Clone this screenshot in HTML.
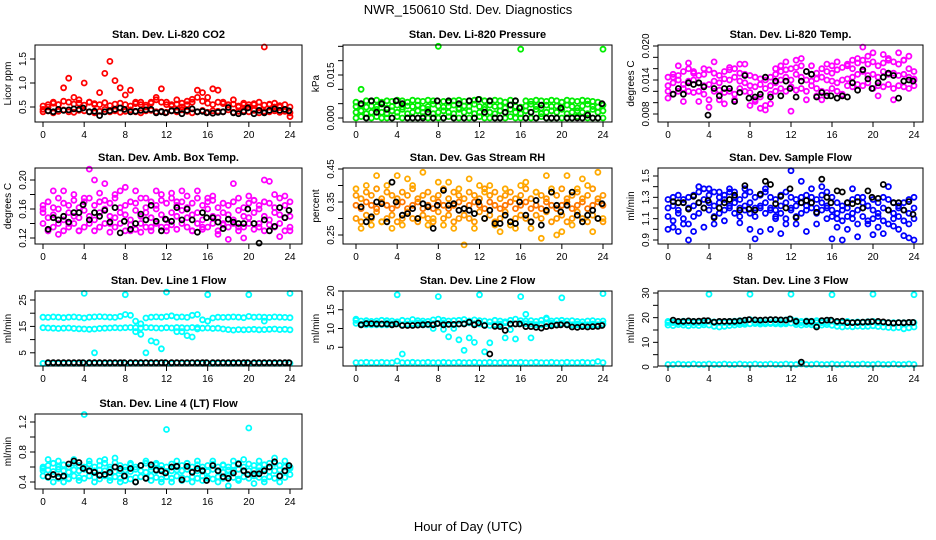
<!DOCTYPE html>
<html><head><meta charset="utf-8">
<style>
html,body{margin:0;padding:0;background:#fff;}
svg{display:block;font-family:"Liberation Sans",sans-serif;}
</style></head>
<body>
<svg id="chart" width="936" height="540" viewBox="0 0 936 540" xmlns="http://www.w3.org/2000/svg">
<text x="468" y="14" text-anchor="middle" font-size="13">NWR_150610 Std. Dev. Diagnostics</text>
<text x="468" y="531" text-anchor="middle" font-size="13">Hour of Day (UTC)</text>
</svg>
<script>
// ---- shared x data ----
const hours49 = [0,0.5,1,1.5,2,2.5,3,3.5,4,4.5,5,5.5,6,6.5,7,7.5,8,8.5,9,9.5,10,10.5,11,11.5,12,12.5,13,13.5,14,14.5,15,15.5,16,16.5,17,17.5,18,18.5,19,19.5,20,20.5,21,21.5,22,22.5,23,23.5,24];
const blackHours = [0.5,1,1.5,2,2.5,3,3.5,3.9,4.5,5,5.5,6,6.5,7,7.5,7.9,8.5,9,9.5,10,10.5,11,11.5,11.9,12.5,13,13.5,14,14.5,15,15.5,15.9,16.5,17,17.5,18,18.5,19,19.5,19.9,20.5,21,21.5,22,22.5,23,23.5,23.9];
const xTicks = [0,4,8,12,16,20,24];

// ---- P1 CO2 ----
const co2A = [0.40,0.42,0.38,0.41,0.44,0.40,0.39,0.43,0.42,0.40,0.38,0.41,0.45,0.40,0.42,0.39,0.41,0.44,0.40,0.38,0.42,0.43,0.40,0.41,0.39,0.42,0.40,0.44,0.41,0.38,0.40,0.43,0.39,0.42,0.41,0.40,0.44,0.39,0.41,0.42,0.40,0.43,0.38,0.41,0.40,0.42,0.39,0.41,0.38];
const co2B = [0.52,0.55,0.58,0.55,0.62,0.60,0.56,0.58,0.54,0.60,0.57,0.55,0.59,0.53,0.56,0.58,0.55,0.52,0.57,0.60,0.54,0.58,0.65,0.60,0.55,0.52,0.56,0.58,0.62,0.66,0.70,0.62,0.58,0.55,0.60,0.57,0.54,0.56,0.52,0.58,0.55,0.57,0.60,0.54,0.56,0.58,0.53,0.55,0.50];
const co2C = [0.45,0.50,0.60,0.55,0.90,1.10,0.70,0.65,1.00,0.60,0.55,0.80,1.20,1.45,1.05,0.90,0.75,0.85,0.60,0.55,0.50,0.60,0.70,0.88,0.60,0.55,0.65,0.50,0.55,0.60,0.85,0.80,0.70,0.88,0.85,0.60,0.55,0.65,0.50,0.55,0.50,0.55,0.50,1.75,0.55,0.50,0.50,0.45,0.30];
const co2Black = [0.42,0.40,0.45,0.43,0.44,0.46,0.45,0.48,0.40,0.41,0.32,0.40,0.42,0.45,0.48,0.45,0.40,0.41,0.43,0.44,0.45,0.38,0.40,0.38,0.42,0.43,0.36,0.43,0.46,0.40,0.41,0.38,0.37,0.39,0.40,0.49,0.38,0.36,0.40,0.48,0.36,0.43,0.38,0.43,0.46,0.43,0.45,0.42];

// ---- P2 Pressure ----
const presA = [0,0.0005,0,0,0.0005,0,0,0,0.0005,0,0,0,0,0.0005,0,0,0,0,0.0005,0,0,0,0,0,0.0005,0,0,0,0,0,0.0005,0,0,0,0,0,0.0005,0,0,0,0,0,0,0.0005,0,0,0,0,0];
const presB = [0.002,0.0025,0.0015,0.002,0.003,0.002,0.0015,0.0025,0.002,0.003,0.0015,0.002,0.0025,0.002,0.003,0.0015,0.002,0.0025,0.002,0.0015,0.003,0.002,0.0025,0.0015,0.002,0.003,0.002,0.0015,0.0025,0.002,0.003,0.002,0.0015,0.0025,0.002,0.003,0.0015,0.002,0.0025,0.002,0.003,0.0015,0.002,0.0025,0.002,0.0015,0.003,0.002,0.0025];
const presC = [0.004,0.0045,0.0038,0.0042,0.004,0.0048,0.0035,0.004,0.0045,0.0038,0.0042,0.004,0.0045,0.0035,0.004,0.0048,0.0042,0.0038,0.004,0.0045,0.0035,0.0042,0.004,0.0048,0.004,0.0038,0.0045,0.004,0.0042,0.0035,0.0045,0.004,0.0038,0.0042,0.0048,0.004,0.0035,0.0045,0.004,0.0042,0.0038,0.0045,0.004,0.0035,0.0042,0.0048,0.004,0.0038,0.0045];
const presD = [0.0055,0.010,0.006,0.0058,0.0062,0.0055,0.006,0.0058,0.0062,0.006,0.0055,0.0062,0.006,0.0058,0.0062,0.006,0.025,0.0058,0.0055,0.006,0.0062,0.0058,0.006,0.0062,0.0065,0.006,0.0058,0.0062,0.006,0.0055,0.0062,0.006,0.024,0.006,0.0058,0.0062,0.006,0.0058,0.0062,0.006,0.0055,0.0062,0.006,0.0058,0.0062,0.006,0.0058,0.0055,0.024];
const presBlack = [0.005,0,0.006,0.002,0.005,0.003,0,0.006,0.005,0,0,0,0,0.002,0,0.006,0,0.006,0,0.005,0,0.006,0,0.0065,0.002,0.006,0,0,0.002,0.0045,0.006,0.0035,0,0.002,0,0.0045,0,0,0,0.0035,0,0,0,0,0.001,0,0,0.005];

// ---- P3 Li-820 Temp ----
const tmpA = [0.012,0.0115,0.012,0.0125,0.012,0.0118,0.012,0.0115,0.0105,0.012,0.0122,0.0118,0.012,0.0115,0.0125,0.012,0.0118,0.0105,0.011,0.0095,0.0115,0.012,0.0125,0.012,0.0128,0.0122,0.0125,0.012,0.013,0.0125,0.012,0.0118,0.0125,0.012,0.0115,0.013,0.0128,0.0132,0.013,0.0135,0.0125,0.013,0.0128,0.0132,0.0125,0.013,0.0128,0.0125,0.013];
const tmpB = [0.013,0.0135,0.014,0.0132,0.0138,0.014,0.0135,0.013,0.0132,0.0138,0.0135,0.0142,0.014,0.0145,0.0138,0.0135,0.013,0.0128,0.0132,0.0125,0.013,0.0135,0.014,0.0145,0.014,0.015,0.0145,0.014,0.0138,0.0142,0.0145,0.014,0.0138,0.0135,0.014,0.0142,0.0145,0.015,0.0155,0.0148,0.015,0.0145,0.0155,0.015,0.0152,0.0148,0.015,0.0145,0.014];
const tmpC = [0.0145,0.015,0.0148,0.0155,0.016,0.0152,0.0148,0.015,0.0158,0.0152,0.0148,0.0155,0.0158,0.016,0.0152,0.015,0.0148,0.0145,0.0142,0.014,0.0145,0.015,0.0155,0.0158,0.016,0.0162,0.0165,0.0155,0.015,0.0152,0.016,0.0155,0.0152,0.0158,0.0162,0.0165,0.016,0.017,0.0175,0.0168,0.0172,0.0165,0.017,0.0175,0.0172,0.0168,0.0175,0.016,0.0155];
const tmpD = [0.0108,0.0145,0.0165,0.0102,0.017,0.0155,0.0102,0.016,0.0092,0.0172,0.0105,0.0098,0.0162,0.0105,0.0168,0.0168,0.0095,0.0102,0.009,0.0087,0.0098,0.016,0.0165,0.0172,0.0085,0.0175,0.0178,0.0105,0.0165,0.0112,0.0105,0.0168,0.0165,0.0172,0.0112,0.0168,0.0175,0.0178,0.0198,0.0182,0.0188,0.0112,0.0185,0.0178,0.0105,0.0188,0.0175,0.0182,0.0142];
const tmpBlack = [0.0115,0.0125,0.0115,0.0135,0.0132,0.0135,0.0128,0.0078,0.0125,0.0112,0.0125,0.0125,0.0102,0.0118,0.0148,0.0108,0.011,0.0115,0.0145,0.011,0.0138,0.0112,0.0138,0.0125,0.011,0.0138,0.0155,0.015,0.011,0.0118,0.0112,0.0112,0.0108,0.0112,0.011,0.0135,0.0122,0.0158,0.0142,0.0125,0.0135,0.0145,0.0152,0.0148,0.0108,0.0138,0.014,0.0138];

// ---- P4 Amb Box Temp ----
const boxA = [0.14,0.13,0.135,0.14,0.13,0.135,0.14,0.13,0.135,0.14,0.13,0.135,0.14,0.128,0.135,0.14,0.13,0.138,0.132,0.14,0.135,0.13,0.14,0.135,0.13,0.138,0.132,0.14,0.135,0.13,0.14,0.132,0.135,0.14,0.13,0.138,0.135,0.14,0.13,0.135,0.14,0.132,0.135,0.13,0.138,0.135,0.14,0.13,0.135];
const boxB = [0.155,0.148,0.152,0.16,0.145,0.155,0.15,0.148,0.158,0.15,0.145,0.155,0.16,0.15,0.148,0.155,0.152,0.145,0.158,0.15,0.155,0.148,0.16,0.152,0.145,0.155,0.15,0.158,0.148,0.152,0.155,0.145,0.16,0.15,0.148,0.155,0.152,0.145,0.158,0.15,0.148,0.155,0.16,0.15,0.145,0.155,0.152,0.148,0.15];
const boxC = [0.165,0.17,0.162,0.175,0.168,0.165,0.172,0.162,0.17,0.175,0.165,0.17,0.172,0.168,0.175,0.162,0.165,0.17,0.168,0.175,0.162,0.17,0.165,0.172,0.168,0.175,0.165,0.17,0.162,0.168,0.175,0.165,0.17,0.172,0.162,0.168,0.165,0.17,0.175,0.162,0.168,0.172,0.165,0.17,0.168,0.162,0.175,0.165,0.17];
const boxD = [0.16,0.13,0.185,0.125,0.185,0.14,0.18,0.13,0.175,0.215,0.2,0.182,0.195,0.14,0.18,0.185,0.19,0.13,0.185,0.128,0.175,0.135,0.185,0.18,0.135,0.182,0.17,0.185,0.178,0.13,0.185,0.135,0.175,0.178,0.125,0.14,0.118,0.195,0.135,0.12,0.178,0.172,0.14,0.2,0.198,0.18,0.122,0.178,0.13];
const boxBlack = [0.132,0.148,0.145,0.15,0.142,0.155,0.155,0.166,0.145,0.155,0.15,0.158,0.142,0.162,0.127,0.143,0.132,0.14,0.153,0.145,0.165,0.143,0.13,0.146,0.143,0.162,0.145,0.16,0.145,0.128,0.155,0.148,0.148,0.142,0.133,0.146,0.142,0.14,0.14,0.16,0.14,0.113,0.145,0.13,0.136,0.162,0.148,0.158];

// ---- P5 Gas Stream RH ----
const rhA = [0.3,0.29,0.31,0.3,0.32,0.29,0.3,0.31,0.29,0.3,0.32,0.3,0.29,0.31,0.3,0.29,0.32,0.3,0.31,0.29,0.3,0.31,0.3,0.29,0.32,0.3,0.31,0.29,0.3,0.32,0.29,0.3,0.31,0.3,0.29,0.31,0.3,0.32,0.29,0.3,0.31,0.29,0.3,0.32,0.3,0.29,0.31,0.3,0.29];
const rhB = [0.34,0.33,0.35,0.34,0.33,0.35,0.34,0.33,0.34,0.35,0.33,0.34,0.35,0.33,0.34,0.33,0.35,0.34,0.33,0.34,0.35,0.33,0.34,0.35,0.34,0.33,0.35,0.34,0.33,0.34,0.35,0.33,0.34,0.35,0.33,0.34,0.33,0.35,0.34,0.33,0.34,0.35,0.33,0.34,0.35,0.33,0.34,0.35,0.34];
const rhC = [0.37,0.36,0.38,0.37,0.39,0.36,0.38,0.37,0.36,0.38,0.37,0.39,0.36,0.37,0.38,0.36,0.37,0.39,0.36,0.38,0.37,0.36,0.38,0.37,0.36,0.39,0.37,0.38,0.36,0.37,0.38,0.36,0.37,0.39,0.36,0.38,0.37,0.36,0.38,0.37,0.39,0.36,0.37,0.38,0.36,0.37,0.39,0.36,0.37];
const rhD = [0.39,0.27,0.4,0.28,0.43,0.29,0.4,0.27,0.43,0.28,0.42,0.4,0.3,0.44,0.28,0.3,0.41,0.28,0.41,0.27,0.39,0.22,0.42,0.27,0.4,0.38,0.4,0.28,0.26,0.39,0.28,0.27,0.4,0.41,0.27,0.38,0.24,0.43,0.39,0.25,0.26,0.43,0.28,0.39,0.42,0.4,0.26,0.44,0.3];
const rhBlack = [0.335,0.29,0.305,0.35,0.345,0.29,0.41,0.35,0.31,0.315,0.33,0.3,0.345,0.335,0.27,0.34,0.385,0.34,0.345,0.325,0.33,0.325,0.315,0.35,0.3,0.325,0.285,0.285,0.31,0.29,0.285,0.35,0.31,0.29,0.355,0.28,0.325,0.38,0.34,0.32,0.34,0.38,0.31,0.29,0.31,0.325,0.3,0.345];

// ---- P6 Sample Flow ----
const sfA = [1.12,1.08,1.15,1.1,1.05,1.12,1.15,1.2,1.18,1.12,1.15,1.18,1.2,1.15,1.12,1.18,1.15,1.12,1.2,1.15,1.18,1.12,1.15,1.1,1.18,1.12,1.15,1.18,1.2,1.15,1.18,1.2,1.12,1.1,1.08,1.12,1.1,1.05,1.12,1.08,1.1,1.12,1.08,1.05,1.1,1.12,1.08,1.05,1.1];
const sfB = [1.2,1.22,1.18,1.25,1.2,1.22,1.25,1.28,1.25,1.22,1.25,1.28,1.22,1.25,1.2,1.22,1.25,1.2,1.22,1.25,1.2,1.18,1.22,1.25,1.2,1.22,1.25,1.22,1.25,1.2,1.25,1.22,1.18,1.15,1.18,1.2,1.15,1.18,1.2,1.22,1.18,1.15,1.2,1.18,1.15,1.2,1.18,1.15,1.2];
const sfC = [1.28,1.3,1.32,1.28,1.3,1.32,1.35,1.38,1.32,1.35,1.3,1.32,1.35,1.3,1.28,1.32,1.35,1.3,1.32,1.35,1.3,1.28,1.32,1.35,1.3,1.28,1.3,1.32,1.3,1.28,1.32,1.35,1.3,1.25,1.22,1.25,1.28,1.3,1.25,1.22,1.28,1.25,1.3,1.28,1.25,1.22,1.25,1.28,1.3];
const sfD = [1.0,1.02,0.98,1.05,0.9,0.98,1.4,1.02,1.38,1.05,1.35,1.08,1.38,1.35,1.06,1.38,1.0,0.91,0.98,1.38,1.0,1.1,0.96,1.05,1.55,1.05,1.45,0.98,1.38,1.05,1.4,1.1,0.91,1.02,0.9,1.0,1.38,0.93,1.3,1.05,0.95,1.02,0.96,1.4,1.03,1.0,0.94,0.92,0.9];
const sfBlack = [1.26,1.25,1.25,1.19,1.31,1.25,1.2,1.27,1.11,1.2,1.25,1.28,1.32,1.18,1.41,1.19,1.18,1.33,1.45,1.42,1.24,1.31,1.2,1.38,1.11,1.25,1.27,1.25,1.16,1.47,1.3,1.25,1.36,1.35,1.25,1.24,1.26,1.2,1.36,1.3,1.29,1.42,1.18,1.25,1.25,1.18,1.26,1.14];

// ---- P7 Line 1 Flow ----
const l1A = [18.5,18.4,18.6,18.5,18.3,18.5,18.6,18.4,18.2,18.5,18.6,18.7,18.6,18.5,18.4,18.8,19.5,19.2,17,16,18.2,18.5,18.6,18.5,18.7,19,18.5,18.6,18.4,19.2,19.5,17.5,17,18.2,18.5,18.4,18.5,18.6,18.5,18.3,18.8,18.5,18.6,18.5,18.4,18.6,18.5,18.4,18.3];
const l1B = [14.5,14.4,14.3,14.2,14.3,14.4,14.2,14.1,14,13.9,14,14.2,14.3,14.4,14.5,14.4,14.5,14.6,14.5,14.4,14.6,14.5,14.4,14.3,14.5,14.4,14.6,14.5,14.4,14.6,14.5,14.3,14.4,14.2,14.3,14,13.8,13.6,13.8,13.7,13.8,13.9,13.7,13.8,13.9,14,13.8,13.9,13.7];
const l1C = [1,1,1.1,1,1,1.1,1,1,1.1,1,1,1.1,1,1,1.1,1,1,1.1,1,1,1.1,1,1,1.1,1,1,1.1,1,1,1.1,1,1,1.1,1,1,1.1,1,1,1.1,1,1,1.1,1,1,1.1,1,1,1.1,1];
const l1D = [1,1,1,1,1,1,1,1,27.5,1,5,1,1,1,1,1,27,1,13,12,5,9.5,9,6.5,28,1,13,13,11.5,11,14,1,27,1,1,1,1,1,1,1,27,1,1,17,1,1,1,1,27.5];
const l1Black = [1.3,1.3,1.3,1.3,1.3,1.3,1.3,1.3,1.3,1.3,1.3,1.3,1.3,1.3,1.3,1.3,1.3,1.3,1.3,1.3,1.3,1.3,1.3,1.3,1.3,1.3,1.3,1.3,1.3,1.3,1.3,1.3,1.3,1.3,1.3,1.3,1.3,1.3,1.3,1.3,1.3,1.3,1.3,1.3,1.3,1.3,1.3,1.3];

// ---- P8 Line 2 Flow ----
const l2A = [12.2,12,12.1,11.9,12,12.2,12.1,12,11.8,12.2,12,12.4,12.1,12,11.9,12.3,12.5,12.2,12,12.1,12.2,12.4,12,12.3,12.1,12,11.8,12.2,12,11.8,12.2,12.5,12.1,12,12.1,11.9,12.2,12.5,12,12.1,12.2,12,12.1,11.9,11.8,12,12.1,11.9,12];
const l2B = [11.4,11.2,11.5,11.3,11.4,11.2,11.5,11.3,11.2,11,11.2,11.3,11.5,11.4,11.2,11.3,11.4,11.5,11.2,11,11.2,11.4,11.5,11.3,11.2,11,10.8,11,11.2,11.5,11.3,11.2,11.4,11.3,11.2,11,11.2,11.3,11.4,11.2,11.4,11.2,11,11.2,10.9,11,11.2,11,11.2];
const l2C = [0.9,0.9,1,0.9,0.9,1,0.9,0.9,1.3,0.9,0.9,1,0.9,0.9,1,0.9,0.9,1,0.9,0.9,1,0.9,0.9,1,0.9,0.9,1,0.9,0.9,1,0.9,0.9,1,0.9,0.9,1,0.9,0.9,1,0.9,0.9,1,0.9,0.9,1,0.9,0.9,1.2,0.9];
const l2D = [12.5,11,11,11,11,11,11,11,19,3.2,11,11,11,11,11,10,18.5,9.8,7.8,10,7,4.2,7.5,6.3,19,3.8,6.2,11,11,7.5,9.7,7.2,18.5,13.8,7.5,11,11,12.8,11,11,18.2,11,11,11,11,11,11,11,19.3];
const l2Black = [11,11.3,11.3,11.2,11.2,11.2,11,11.2,10.8,10.8,10.8,10.9,11,11.1,11,11.3,11,11.1,11.1,11.2,11.2,11.7,11,11.5,10.8,3.2,10.6,10.5,9.5,11.2,11.2,11.2,10.5,10.5,10.3,10.1,10.5,10.7,10.9,11,11,10.4,10.3,10.5,10.4,10.5,10.6,10.8];

// ---- P9 Line 3 Flow ----
const l3A = [18.5,18.2,18.4,18.6,18.3,18.5,18.4,18.6,18.5,18.3,18.2,18.4,18.5,18.6,18.8,18.9,19.2,19,18.8,19,19.2,19,18.9,19.1,19.3,18.8,18.5,18.7,18.6,18.8,18.5,18.9,18.6,18.4,18.2,18.5,18.1,18.3,18.2,18.4,18.5,18.2,18,17.9,17.8,18,17.8,17.9,18];
const l3B = [17,16.8,17.2,17,16.7,17,16.8,17.1,17,16.5,16.2,16.5,16.8,17,17.2,17.3,17.5,17.6,17.4,17.5,17.6,17.5,17.4,17.5,17.8,17.2,17,17.2,17.1,16.8,17,17.2,16.9,16.5,16.2,16.5,16.3,16.6,16.4,16.5,16.7,16.4,16.2,16,15.8,16,15.5,15.9,16.2];
const l3C = [1,1,1.2,1,1,1.2,1,1,1.2,1,1,1.2,1,1,1.2,1,1,1.2,1,1,1.2,1,1,1.2,1,1,1.2,1,1,1.2,1,1,1.2,1,1,1.2,1,1,1.2,1,1,1.2,1,1,1.2,1,1,1.2,1];
const l3D = [18,18,18,18,18,18,18,18,29.5,18,18,18,18,18,18,18,29.5,18,18,18,18,18,18,18,29.5,18,18,18,18,18,18,18,29.3,18,18,18,18,18,18,18,29.5,18,18,18,18,18,18,18,29.3];
const l3Black = [19,18.5,18.5,18.7,18.5,18.6,18.8,18.8,18.2,18.5,18.5,18.5,18.5,18.7,19,19.2,19.1,19,19.1,19.2,19.2,19.1,19,19.5,18.5,2,18.5,18.5,16.2,18.8,19,19,18.5,18.6,18,18,18.1,18.2,18.3,18.4,18.5,18.3,18,17.8,18,17.9,18.1,18.1];

// ---- P10 Line 4 (LT) Flow ----
const l4A = [0.48,0.46,0.5,0.45,0.47,0.44,0.48,0.46,0.45,0.48,0.46,0.44,0.48,0.46,0.47,0.45,0.48,0.44,0.46,0.47,0.45,0.48,0.46,0.44,0.47,0.45,0.48,0.46,0.44,0.47,0.45,0.48,0.46,0.44,0.47,0.45,0.48,0.46,0.44,0.47,0.45,0.48,0.46,0.44,0.47,0.45,0.48,0.46,0.5];
const l4B = [0.55,0.56,0.54,0.57,0.55,0.53,0.56,0.55,0.57,0.54,0.55,0.56,0.55,0.57,0.54,0.55,0.56,0.54,0.57,0.55,0.53,0.56,0.55,0.57,0.54,0.55,0.56,0.55,0.57,0.54,0.55,0.56,0.54,0.57,0.55,0.53,0.56,0.55,0.57,0.54,0.55,0.56,0.55,0.57,0.54,0.55,0.56,0.54,0.58];
const l4C = [0.6,0.62,0.65,0.6,0.63,0.6,0.65,0.62,0.6,0.64,0.6,0.62,0.65,0.6,0.66,0.62,0.6,0.63,0.6,0.62,0.65,0.6,0.63,0.62,0.6,0.64,0.6,0.62,0.65,0.6,0.63,0.6,0.62,0.64,0.6,0.63,0.6,0.62,0.65,0.6,0.64,0.62,0.6,0.63,0.6,0.65,0.62,0.6,0.6];
const l4D = [0.58,0.7,0.4,0.68,0.4,0.45,0.7,0.42,1.3,0.68,0.4,0.68,0.7,0.42,0.72,0.4,0.42,0.65,0.4,0.62,0.68,0.42,0.65,0.4,1.1,0.4,0.68,0.42,0.65,0.4,0.68,0.42,0.45,0.68,0.4,0.62,0.35,0.68,0.42,0.7,1.12,0.38,0.68,0.4,0.65,0.72,0.4,0.68,0.6];
const l4Black = [0.47,0.5,0.47,0.48,0.64,0.68,0.66,0.58,0.55,0.53,0.49,0.5,0.53,0.6,0.58,0.48,0.58,0.4,0.62,0.45,0.63,0.56,0.55,0.52,0.6,0.61,0.43,0.61,0.53,0.58,0.55,0.42,0.62,0.55,0.47,0.45,0.52,0.64,0.55,0.5,0.51,0.51,0.55,0.6,0.67,0.48,0.55,0.62];

// ---- layout (not data) ----
const cols = [{L:35,R:302,x0:43,x24:290},{L:343,R:612,x0:356,x24:603},{L:658,R:923,x0:668,x24:914}];
const rows = [{T:45,B:122},{T:168,B:244},{T:291,B:366},{T:414,B:489}];
const NS = 'http://www.w3.org/2000/svg';
const svg = document.getElementById('chart');

const panels = [
 {c:0,r:0,title:'Stan. Dev. Li-820 CO2',ylab:'Licor ppm',yv:[0.5,1.5],yp:[107,59],ticks:[0.5,1.0,1.5],labels:{'0.5':'0.5','1':'1.0','1.5':'1.5'},
  series:[[hours49,co2A,'#ff0000'],[hours49,co2B,'#ff0000'],[hours49,co2C,'#ff0000'],[blackHours,co2Black,'#000']]},
 {c:1,r:0,title:'Stan. Dev. Li-820 Pressure',ylab:'kPa',yv:[0,0.015],yp:[118,75],ticks:[0,0.005,0.01,0.015,0.02,0.025],labels:{'0':'0.000','0.015':'0.015'},
  series:[[hours49,presA,'#00ee00'],[hours49,presB,'#00ee00'],[hours49,presC,'#00ee00'],[hours49,presD,'#00ee00'],[blackHours,presBlack,'#000']]},
 {c:2,r:0,title:'Stan. Dev. Li-820 Temp.',ylab:'degrees C',yv:[0.008,0.020],yp:[114,46],ticks:[0.008,0.010,0.012,0.014,0.016,0.018,0.020],labels:{'0.008':'0.008','0.014':'0.014','0.02':'0.020'},
  series:[[hours49,tmpA,'#ff00ff'],[hours49,tmpB,'#ff00ff'],[hours49,tmpC,'#ff00ff'],[hours49,tmpD,'#ff00ff'],[blackHours,tmpBlack,'#000']]},
 {c:0,r:1,title:'Stan. Dev. Amb. Box Temp.',ylab:'degrees C',yv:[0.12,0.20],yp:[238,180],ticks:[0.12,0.14,0.16,0.18,0.20],labels:{'0.12':'0.12','0.16':'0.16','0.2':'0.20'},
  series:[[hours49,boxA,'#ff00ff'],[hours49,boxB,'#ff00ff'],[hours49,boxC,'#ff00ff'],[hours49,boxD,'#ff00ff'],[blackHours,boxBlack,'#000']]},
 {c:1,r:1,title:'Stan. Dev. Gas Stream RH',ylab:'percent',yv:[0.25,0.45],yp:[235,169],ticks:[0.25,0.30,0.35,0.40,0.45],labels:{'0.25':'0.25','0.35':'0.35','0.45':'0.45'},
  series:[[hours49,rhA,'#ff9900'],[hours49,rhB,'#ff7700'],[hours49,rhC,'#ff9900'],[hours49,rhD,'#ffaa00'],[blackHours,rhBlack,'#000']]},
 {c:2,r:1,title:'Stan. Dev. Sample Flow',ylab:'ml/min',yv:[0.9,1.5],yp:[240,176],ticks:[0.9,1.0,1.1,1.2,1.3,1.4,1.5],labels:{'0.9':'0.9','1.1':'1.1','1.3':'1.3','1.5':'1.5'},
  series:[[hours49,sfA,'#0000ff'],[hours49,sfB,'#0000ff'],[hours49,sfC,'#0000ff'],[hours49,sfD,'#0000ff'],[blackHours,sfBlack,'#000']]},
 {c:0,r:2,title:'Stan. Dev. Line 1 Flow',ylab:'ml/min',yv:[0,25],yp:[366,300],ticks:[5,10,15,20,25],labels:{'5':'5','15':'15','25':'25'},
  series:[[hours49,l1A,'#00ffff'],[hours49,l1B,'#00ffff'],[hours49,l1C,'#00ffff'],[hours49,l1D,'#00ffff'],[blackHours,l1Black,'#000']]},
 {c:1,r:2,title:'Stan. Dev. Line 2 Flow',ylab:'ml/min',yv:[0,20],yp:[366,291],ticks:[5,10,15,20],labels:{'5':'5','10':'10','15':'15','20':'20'},
  series:[[hours49,l2A,'#00ffff'],[hours49,l2B,'#00ffff'],[hours49,l2C,'#00ffff'],[hours49,l2D,'#00ffff'],[blackHours,l2Black,'#000']]},
 {c:2,r:2,title:'Stan. Dev. Line 3 Flow',ylab:'ml/min',yv:[0,30],yp:[367,293],ticks:[0,5,10,15,20,25,30],labels:{'0':'0','10':'10','20':'20','30':'30'},
  series:[[hours49,l3A,'#00ffff'],[hours49,l3B,'#00ffff'],[hours49,l3C,'#00ffff'],[hours49,l3D,'#00ffff'],[blackHours,l3Black,'#000']]},
 {c:0,r:3,title:'Stan. Dev. Line 4 (LT) Flow',ylab:'ml/min',yv:[0.4,1.2],yp:[482,422],ticks:[0.4,0.6,0.8,1.0,1.2],labels:{'0.4':'0.4','0.8':'0.8','1.2':'1.2'},
  series:[[hours49,l4A,'#00ffff'],[hours49,l4B,'#00ffff'],[hours49,l4C,'#00ffff'],[hours49,l4D,'#00ffff'],[blackHours,l4Black,'#000']]}
];

function mk(tag, attrs, parent){
  const e = document.createElementNS(NS, tag);
  for (const k in attrs) e.setAttribute(k, attrs[k]);
  (parent||svg).appendChild(e);
  return e;
}

panels.forEach((p, pi) => {
  const C = cols[p.c], R = rows[p.r];
  const xs = h => C.x0 + (C.x24 - C.x0) * h / 24;
  const ys = v => p.yp[0] + (p.yp[1] - p.yp[0]) * (v - p.yv[0]) / (p.yv[1] - p.yv[0]);
  const g = mk('g', {});
  
  

  const t = mk('text', {x:(C.L+C.R)/2, y:R.T-7, 'text-anchor':'middle', 'font-size':'11', 'font-weight':'bold'}, g);
  t.textContent = p.title;
  
  

  const pts = mk('g', {fill:'none', 'stroke-width':'1.8'}, g);
  
  
  p.series.forEach(s => {
    const hx = s[0], vals = s[1], col = s[2];
    for (let i = 0; i < vals.length && i < hx.length; i++) {
      const cy = ys(vals[i]);
      if (cy < R.T - 2 || cy > R.B + 2) continue;
      const c = mk('circle', {cx:xs(hx[i]).toFixed(1), cy:cy.toFixed(1), r:'2.5', stroke:col}, pts);
      
      
    }
  });

  const box = mk('rect', {x:C.L, y:R.T, width:C.R-C.L, height:R.B-R.T, fill:'none', stroke:'#000', 'stroke-width':'1'}, g);
  
  

  const xa = mk('g', {}, g);
  
  
  xTicks.forEach(h => {
    mk('line', {x1:xs(h), x2:xs(h), y1:R.B, y2:R.B+5, stroke:'#000'}, xa);
    const tl = mk('text', {x:xs(h), y:R.B+16, 'text-anchor':'middle', 'font-size':'10'}, xa);
    tl.textContent = h;
    
    
  });

  const ya = mk('g', {}, g);
  
  
  p.ticks.forEach(v => {
    const y = ys(v);
    mk('line', {x1:C.L-5, x2:C.L, y1:y, y2:y, stroke:'#000'}, ya);
    const key = String(+v.toFixed(4));
    if (p.labels[key] !== undefined) {
      const tl = mk('text', {x:0, y:0, 'text-anchor':'middle', 'font-size':'10', transform:'translate(' + (C.L-9) + ',' + y + ') rotate(-90)'}, ya);
      tl.textContent = p.labels[key];
      
      
    }
  });
  const yl = mk('text', {x:0, y:0, 'text-anchor':'middle', 'font-size':'10', transform:'translate(' + (C.L-24) + ',' + ((R.T+R.B)/2) + ') rotate(-90)'}, ya);
  yl.textContent = p.ylab;
  
  
});
</script>
</body></html>
